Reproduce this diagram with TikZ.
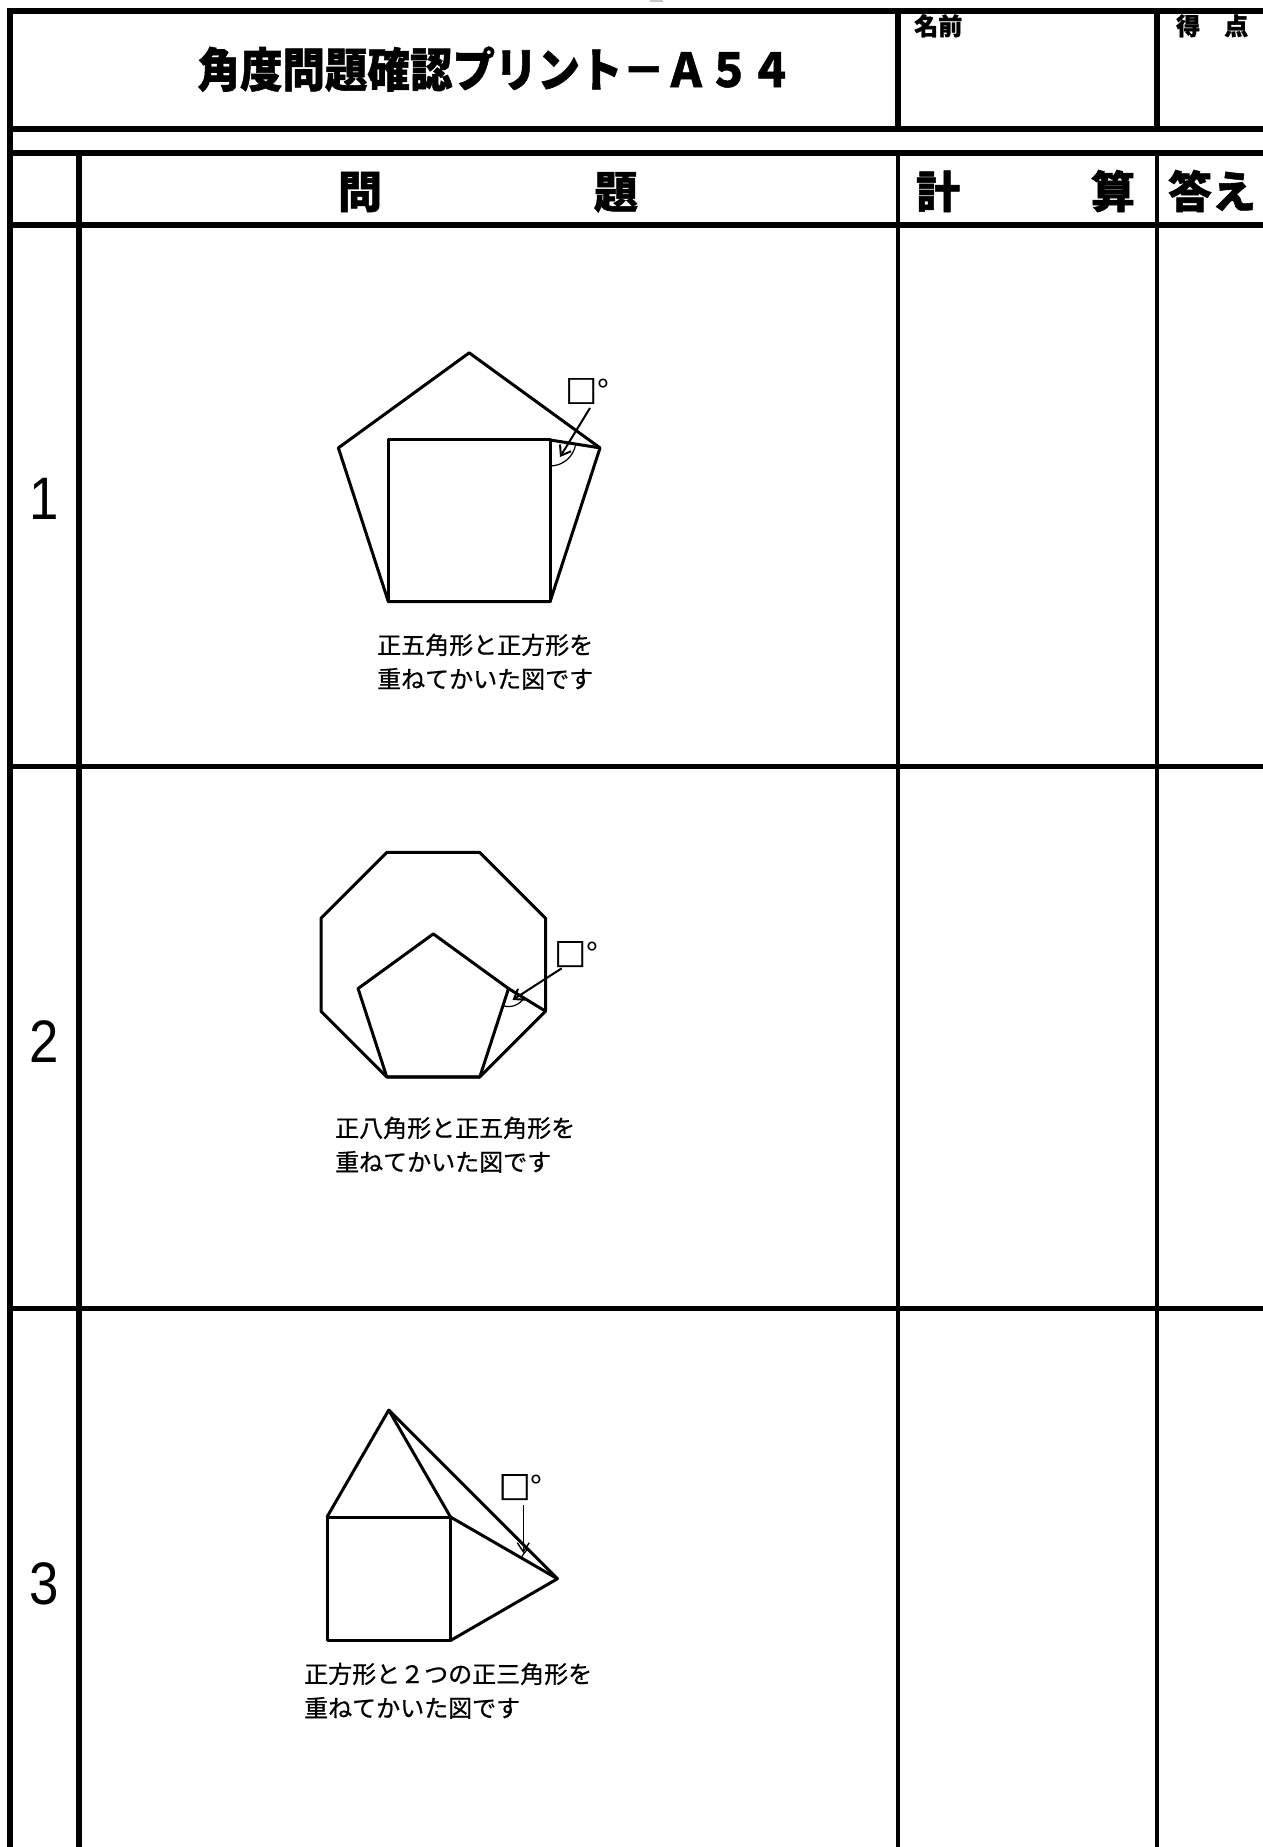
\documentclass[tikz,border=0pt]{standalone}
\usepackage{fontspec}
\setmainfont{Liberation Sans}
\newfontfamily\jp{Noto Sans CJK JP}
\newfontfamily\jpcap{Noto Sans CJK JP}[FakeBold=0.7]
\newfontfamily\jpheavy{Noto Sans CJK JP}[FakeBold=1.2]
\usetikzlibrary{arrows.meta,calc}
\begin{document}
\begin{tikzpicture}[x=1pt,y=-1pt,
  heavy/.style={line width=6pt},
  medium/.style={line width=5pt},
  light/.style={line width=3.5pt},
  fig/.style={line width=3pt, line join=round},
  thinarc/.style={line width=1.2pt},
  arr/.style={line width=2pt, -{Straight Barb[length=9pt,width=13pt]}},
  arrthin/.style={line width=1.4pt, -{Straight Barb[length=9pt,width=12pt]}},
  captxt/.style={font=\jpcap\fontsize{24}{30}\selectfont, anchor=base west, inner sep=0pt},
  headtxt/.style={font=\jpheavy\bfseries\fontsize{44}{44}\selectfont, anchor=base, inner sep=0pt},
  smallhead/.style={font=\jpheavy\bfseries\fontsize{24}{24}\selectfont, anchor=base west, inner sep=0pt},
  numtxt/.style={font=\fontsize{60}{60}\selectfont, anchor=base, inner sep=0pt},
  degtxt/.style={font=\jp\fontsize{32}{32}\selectfont, inner sep=0pt, anchor=west},
]
\useasboundingbox (0,0) rectangle (1263,1847);
\fill[white] (0,0) rectangle (1263,1847);
\fill[gray!45] (650,0) rectangle (663,1.5);
% ---- grid
\draw[heavy] (7,11) -- (1263,11);
\draw[heavy] (10,8) -- (10,1847);
\draw[heavy] (7,129) -- (1263,129);
\draw[heavy] (7,153) -- (1263,153);
\draw[heavy] (7,225) -- (1263,225);
\draw[medium] (7,766) -- (1263,766);
\draw[medium] (7,1308) -- (1263,1308);
\draw[heavy] (79,153) -- (79,1847);
\draw[heavy] (898,11) -- (898,129);
\draw[heavy] (1157,11) -- (1157,129);
\draw[light] (898,153) -- (898,1847);
\draw[light] (1157,153) -- (1157,1847);
% ---- texts of the form
\node[font=\jpheavy\bfseries\fontsize{42.5}{42.5}\selectfont, anchor=base, inner sep=0pt] (title) at (495,87) {\scalebox{1}[1.1]{角度問題確認プリント－Ａ５４}};
\node[smallhead] (name) at (914,35) {名前};
\node[smallhead] (score) at (1176,35) {得　点};
\node[headtxt] (hq1) at (360,208) {問};
\node[headtxt] (hq2) at (616,208) {題};
\node[headtxt] (hc1) at (938,208) {計};
\node[headtxt] (hc2) at (1113,208) {算};
\node[headtxt] (ha) at (1212,208) {答え};
\node[numtxt] (n1) at (44.5,519) {\scalebox{0.88}[1]{1}};
\node[numtxt] (n2) at (44.5,1062) {\scalebox{0.88}[1]{2}};
\node[numtxt] (n3) at (44.5,1604) {\scalebox{0.88}[1]{3}};
% ---- figure 1: pentagon and square
\coordinate (P1O) at (469.2,490.4);
\foreach \a/\n in {-90/a,-18/b,54/c,126/d,198/e}
  \coordinate (p1\n) at ($(P1O)+(\a:137.56)$);
\draw[fig] (p1a) -- (p1b) -- (p1c) -- (p1d) -- (p1e) -- cycle;
\coordinate (s1tr) at ($(p1c)+(0,-161.7)$);
\coordinate (s1tl) at ($(p1d)+(0,-161.7)$);
\draw[fig] (p1d) -- (p1c) -- (s1tr) -- (s1tl) -- cycle;
\draw[fig] (s1tr) -- (p1b);
\draw[thinarc] ($(s1tr)+(9:26)$) arc[start angle=9, end angle=90, radius=26];
\node[degtxt] (q1) at (565,391) {{\jpheavy\bfseries □}°};
\coordinate (a1s) at (590,408);
\coordinate (a1t) at (560,457);
\draw[arr] (a1s) -- (a1t);
\node[captxt] (c1a) at (377,654) {正五角形と正方形を};
\node[captxt] (c1b) at (377,688) {重ねてかいた図です};
% ---- figure 2: octagon and pentagon
\coordinate (O2) at (433.3,964.7);
\foreach \a/\n in {22.5/a,67.5/b,112.5/c,157.5/d,202.5/e,247.5/f,292.5/g,337.5/h}
  \coordinate (o2\n) at ($(O2)+(\a:121.5)$);
\draw[fig] (o2a) -- (o2b) -- (o2c) -- (o2d) -- (o2e) -- (o2f) -- (o2g) -- (o2h) -- cycle;
\coordinate (P2O) at (433.3,1013);
\foreach \a/\n in {-90/a,-18/b,54/c,126/d,198/e}
  \coordinate (p2\n) at ($(P2O)+(\a:79.1)$);
\draw[fig] (p2a) -- (p2b) -- (p2c) -- (p2d) -- (p2e) -- cycle;
\draw[fig] (p2b) -- (o2a);
\draw[thinarc] ($(p2b)+(31.4:18)$) arc[start angle=31.4, end angle=108, radius=18];
\node[degtxt] (q2) at (554,954) {{\jpheavy\bfseries □}°};
\coordinate (a2s) at (561.7,968.3);
\coordinate (a2t) at (512.5,1000);
\draw[arr] (a2s) -- (a2t);
\node[captxt] (c2a) at (335,1137) {正八角形と正五角形を};
\node[captxt] (c2b) at (335,1171) {重ねてかいた図です};
% ---- figure 3: square and two equilateral triangles
\coordinate (s3tl) at (327,1517);
\coordinate (s3tr) at (450.5,1517);
\coordinate (s3br) at (450.5,1640.5);
\coordinate (s3bl) at (327,1640.5);
\coordinate (t3top) at (388.75,1410.05);
\coordinate (t3rt) at (557.45,1578.75);
\draw[fig] (s3tl) -- (s3tr) -- (s3br) -- (s3bl) -- cycle;
\draw[fig] (s3tl) -- (t3top) -- (s3tr);
\draw[fig] (s3tr) -- (t3rt) -- (s3br);
\draw[fig] (t3top) -- (t3rt);
\draw[thinarc] ($(t3rt)+(210:42)$) arc[start angle=210, end angle=225, radius=42];
\node[degtxt] (q3) at (498.5,1487) {{\jpheavy\bfseries □}°};
\coordinate (a3s) at (523.3,1505);
\coordinate (a3t) at (523.3,1553);
\draw[arrthin] (a3s) -- (a3t);
\node[captxt] (c3a) at (304,1683) {正方形と２つの正三角形を};
\node[captxt] (c3b) at (304,1717) {重ねてかいた図です};
\end{tikzpicture}
\end{document}
